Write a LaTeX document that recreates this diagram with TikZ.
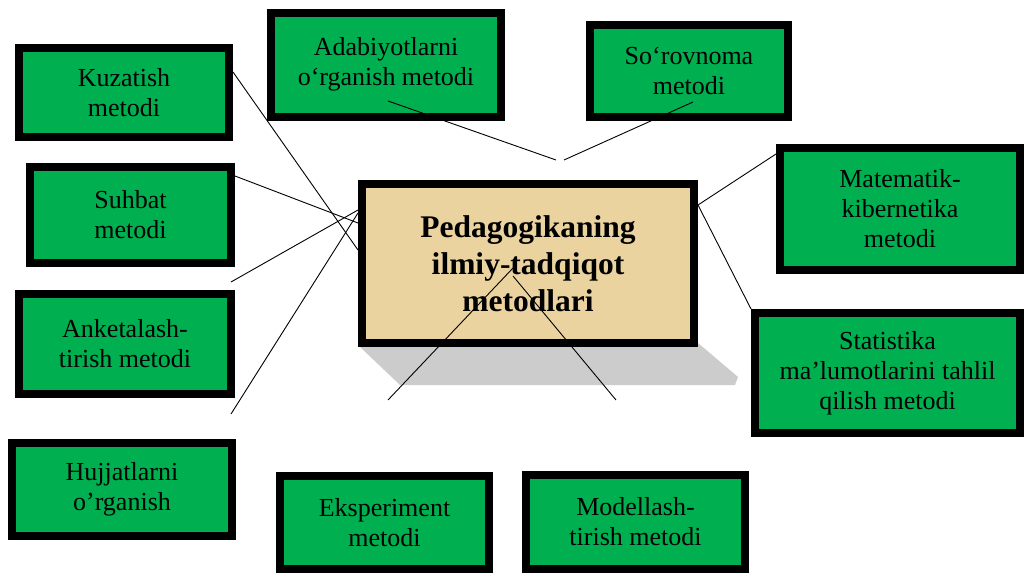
\documentclass[tikz,border=0pt]{standalone}
\usepackage{fontspec}
\setmainfont{Liberation Serif}
\newcommand{\stk}[2][0pt]{\raisebox{#1}{\begin{tabular}{@{}c@{}}#2\end{tabular}}}
\begin{document}
\begin{tikzpicture}[x=1pt,y=-1pt,
  mbox/.style={draw=black,line width=8pt,fill=mgreen,inner sep=0pt,align=center,
    font=\fontsize{26}{30}\selectfont},
  cbox/.style={draw=black,line width=8pt,fill=papyrus,inner sep=0pt,align=center,
    font=\fontsize{31.5}{37}\selectfont\bfseries},
  conn/.style={draw=black,line width=0.9pt}]
\definecolor{mgreen}{HTML}{00B050}
\definecolor{papyrus}{HTML}{EAD39E}
\definecolor{shadowgray}{HTML}{CCCCCC}
\useasboundingbox (0,0) rectangle (1024,575);
\fill[white] (0,0) rectangle (1024,575);
% shadow of the central box
\fill[shadowgray] (358,345) -- (400,385) -- (735,385) -- (738,377) -- (698,343) -- cycle;
% central box
\node[cbox,minimum width=332pt,minimum height=159pt] (cen) at (528,263.5)
  {Pedagogikaning\\ilmiy-tadqiqot\\metodlari};
% method boxes
\node[mbox,minimum width=210pt,minimum height=89pt] (kuz) at (124,92.5) {Kuzatish\\metodi};
\node[mbox,minimum width=201pt,minimum height=96pt] (suh) at (130.5,215) {Suhbat\\metodi};
\node[mbox,minimum width=212pt,minimum height=100pt] (ank) at (125,344) {Anketalash-\\tirish metodi};
\node[mbox,minimum width=220pt,minimum height=93pt] (huj) at (122,489.5) {Hujjatlarni\\o’rganish};
\node[mbox,minimum width=209pt,minimum height=93pt] (eks) at (384.5,522.5) {Eksperiment\\metodi};
\node[mbox,minimum width=219pt,minimum height=94pt] (mod) at (635.5,522) {Modellash-\\tirish metodi};
\node[mbox,minimum width=230pt,minimum height=104pt] (adab) at (386,65) {\stk[6pt]{Adabiyotlarni\\o‘rganish metodi}};
\node[mbox,minimum width=198pt,minimum height=92pt] (sor) at (689,71) {So‘rovnoma\\metodi};
\node[mbox,minimum width=240pt,minimum height=122pt] (mat) at (900,209) {Matematik-\\kibernetika\\metodi};
\node[mbox,minimum width=265pt,minimum height=120pt] (stat) at (887.5,373) {\stk[-6pt]{Statistika\\ma’lumotlarini tahlil\\qilish metodi}};
% free ends
\coordinate (a1) at (231,282);
\coordinate (h1) at (231,414);
\coordinate (t1) at (556,160);
\coordinate (t2) at (564,160);
\coordinate (b1) at (388,400);
\coordinate (b2) at (616,400);
% connectors
\draw[conn] ([yshift=20.5pt]kuz.east) -- ([yshift=13.5pt]cen.west);
\draw[conn] ([yshift=39pt]suh.east) -- ([yshift=40.5pt]cen.west);
\draw[conn] (a1) -- ([yshift=53.5pt]cen.west);
\draw[conn] (h1) -- ([yshift=50.5pt]cen.west);
\draw[conn] ([xshift=2pt,yshift=-36pt]adab.center) -- (t1);
\draw[conn] ([xshift=4pt,yshift=-31pt]sor.center) -- (t2);
\draw[conn] ([yshift=55pt]mat.west) -- ([yshift=58.5pt]cen.east);
\draw[conn] ([yshift=58.5pt]cen.east) -- (stat.north west);
\draw[conn] ([xshift=-15pt,yshift=-4.5pt]cen.center) -- (b1);
\draw[conn] ([xshift=-15pt,yshift=-12.5pt]cen.center) -- (b2);
\end{tikzpicture}
\end{document}
